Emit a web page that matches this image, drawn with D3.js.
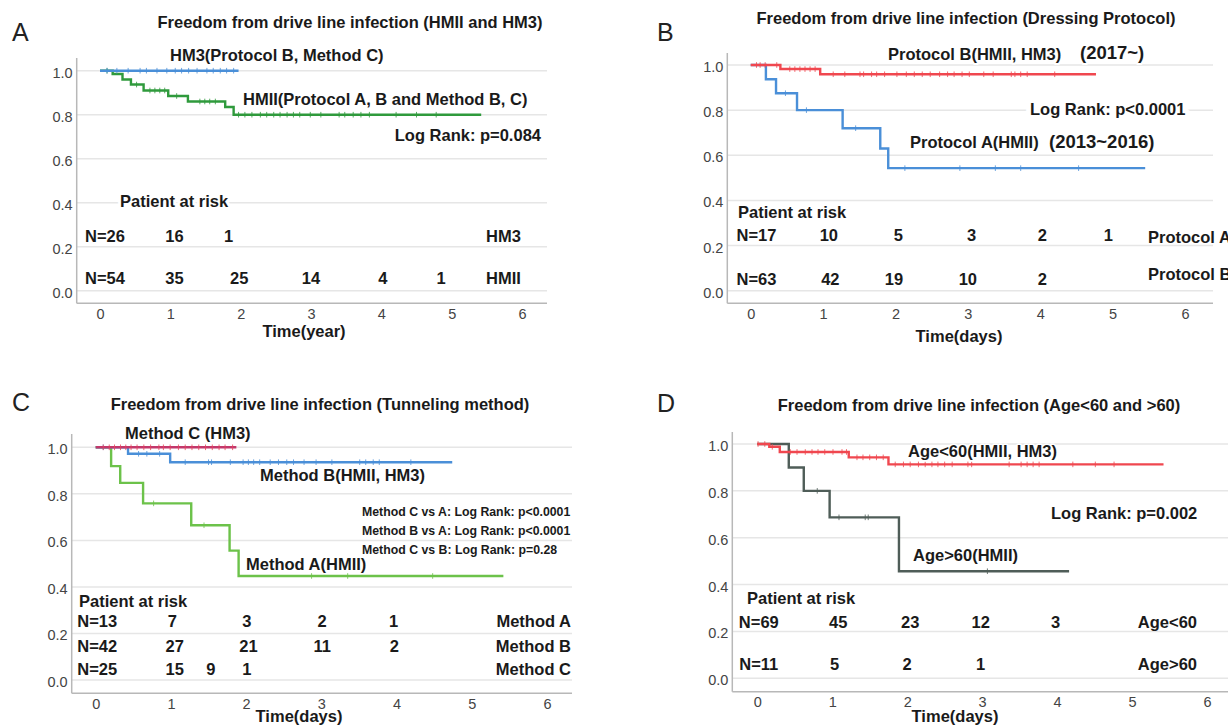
<!DOCTYPE html>
<html>
<head>
<meta charset="utf-8">
<script src="https://cdn.jsdelivr.net/npm/d3@7"></script>
<style>
  body { margin: 0; background: #fff; }
  text { font-family: "Liberation Sans", Arial, sans-serif; }
</style>
</head>
<body>
<div id="chart"></div>
<script>
// ---- shared ticks ----
var xTicks = [0, 1, 2, 3, 4, 5, 6];
var yTicks = [0, 0.2, 0.4, 0.6, 0.8, 1.0];

// ---- Panel A: HMII vs HM3 (time in years) ----
var aHm3Drops = [];
var aHm3Surv = [];
var aHm3End = 1.97;
var aHm3Censor = [0.1, 0.24, 0.4, 0.57, 0.66, 0.81, 0.95, 1.07, 1.16, 1.26, 1.38, 1.52, 1.61, 1.71, 1.8, 1.9];
var aHmiiDrops = [0.18, 0.32, 0.44, 0.62, 0.97, 1.25, 1.78, 1.9];
var aHmiiSurv = [0.985, 0.96, 0.937, 0.91, 0.885, 0.86, 0.835, 0.80];
var aHmiiEnd = 5.42;
var aHmiiCensor = [0.1, 0.52, 0.71, 0.78, 0.85, 0.92, 1.09, 1.42, 1.49, 1.56, 1.64, 1.97, 2.06, 2.16, 2.28, 2.37, 2.47, 2.56, 2.66, 2.75, 2.84, 2.99, 3.14, 3.4, 3.48, 3.6, 3.71, 3.83, 4.21, 4.5, 4.78];
var aRiskHm3 = ["N=26", "16", "1"];
var aRiskHm3At = [0.07, 1.06, 1.83];
var aRiskHmii = ["N=54", "35", "25", "14", "4", "1"];
var aRiskHmiiAt = [0.07, 1.06, 1.98, 3.0, 4.02, 4.85];

// ---- Panel B: dressing protocol ----
var bProtBDrops = [0.41, 0.96];
var bProtBSurv = [0.982, 0.959];
var bProtBEnd = 4.77;
var bProtBCensor = [0.08, 0.13, 0.2, 0.36, 0.54, 0.61, 0.68, 0.75, 0.82, 0.89, 1.14, 1.3, 1.51, 1.56, 1.67, 1.74, 1.85, 2.02, 2.15, 2.26, 2.37, 2.48, 2.61, 2.72, 2.81, 2.92, 3.02, 3.22, 3.35, 3.6, 3.65, 3.73, 3.82, 4.2];
var bProtADrops = [0.21, 0.35, 0.64, 1.27, 1.79, 1.9];
var bProtASurv = [0.937, 0.875, 0.80, 0.72, 0.63, 0.543];
var bProtAEnd = 5.45;
var bProtACensor = [0.48, 0.77, 1.45, 2.13, 2.89, 3.38, 3.73, 4.53];
var bRiskA = ["N=17", "10", "5", "3", "2", "1"];
var bRiskAAt = [0.08, 1.08, 2.04, 3.05, 4.03, 4.94];
var bRiskB = ["N=63", "42", "19", "10", "2"];
var bRiskBAt = [0.08, 1.1, 1.98, 3.0, 4.03];

// ---- Panel C: tunneling method ----
var cMethCDrops = [];
var cMethCSurv = [];
var cMethCEnd = 1.87;
var cMethCCensor = [0.1, 0.18, 0.25, 0.33, 0.4, 0.47, 0.55, 0.64, 0.73, 0.84, 0.9, 0.99, 1.1, 1.19, 1.28, 1.37, 1.46, 1.55, 1.64, 1.72, 1.82];
var cMethBDrops = [0.43, 0.99];
var cMethBSurv = [0.972, 0.936];
var cMethBEnd = 4.74;
var cMethBCensor = [0.1, 0.57, 0.68, 0.85, 1.19, 1.5, 1.54, 1.79, 1.96, 2.03, 2.1, 2.18, 2.32, 2.43, 2.54, 2.63, 2.77, 2.93, 3.14, 3.51, 3.59, 3.69, 3.77, 4.19];
var cMethADrops = [0.205, 0.326, 0.63, 1.27, 1.78, 1.9];
var cMethASurv = [0.919, 0.847, 0.759, 0.665, 0.556, 0.447];
var cMethAEnd = 5.42;
var cMethACensor = [0.77, 1.44, 2.87, 3.35, 4.48];
var cRiskA = ["N=13", "7", "3", "2", "1"];
var cRiskAAt = [0.02, 1.02, 2.01, 3.01, 3.96];
var cRiskB = ["N=42", "27", "21", "11", "2"];
var cRiskBAt = [0.02, 1.05, 2.03, 3.01, 3.97];
var cRiskC = ["N=25", "15", "9", "1"];
var cRiskCAt = [0.02, 1.05, 1.53, 2.01];

// ---- Panel D: age ----
var dYoungDrops = [0.16, 0.3, 1.22, 1.75];
var dYoungSurv = [0.988, 0.966, 0.943, 0.913];
var dYoungEnd = 5.42;
var dYoungCensor = [0.01, 0.1, 0.2, 0.44, 0.53, 0.64, 0.73, 0.81, 0.9, 1.01, 1.13, 1.19, 1.33, 1.41, 1.5, 1.59, 1.68, 1.84, 1.95, 2.04, 2.15, 2.24, 2.33, 2.41, 2.5, 2.6, 2.81, 2.86, 3.36, 3.52, 3.6, 3.68, 3.76, 4.21, 4.51, 4.76];
var dOldDrops = [0.42, 0.62, 0.965, 1.89];
var dOldSurv = [0.9, 0.8, 0.687, 0.457];
var dOldEnd = 4.16;
var dOldCensor = [0.8, 1.09, 1.44, 1.48, 3.07];
var dRiskYoung = ["N=69", "45", "23", "12", "3"];
var dRiskYoungAt = [0.02, 1.08, 2.04, 2.98, 3.98];
var dRiskOld = ["N=11", "5", "2", "1"];
var dRiskOldAt = [0.02, 1.03, 2.0, 2.98];

var svg = d3.select("#chart").append("svg")
  .attr("width", 1228).attr("height", 726);
svg.append("rect").attr("width", 1228).attr("height", 726).attr("fill", "#fff");

function txt(g, x, y, s, opt) {
  opt = opt || {};
  var t = g.append("text")
    .attr("x", x).attr("y", y)
    .attr("font-size", opt.size || 16.5)
    .attr("font-weight", opt.weight || "bold")
    .attr("text-anchor", opt.anchor || "start")
    .attr("fill", opt.color || "#1a1a1a")
    .text(s);
  if (opt.halo) {
    t.attr("stroke", "#fff").attr("stroke-width", opt.halo)
     .attr("stroke-linejoin", "round").attr("paint-order", "stroke");
  }
  return t;
}

// draws frame, grid and axes; returns scales
function frame(cfg) {
  var g = svg.append("g");
  var x = d3.scaleLinear().domain([0, 6]).range([cfg.x0, cfg.x6]);
  var y = d3.scaleLinear().domain([0, 1]).range([cfg.y0, cfg.y1]);

  g.selectAll("line.grid").data(yTicks).join("line")
    .attr("class", "grid")
    .attr("x1", cfg.left).attr("x2", cfg.right)
    .attr("y1", function(d) { return y(d); })
    .attr("y2", function(d) { return y(d); })
    .attr("stroke", "#e6e6e6").attr("stroke-width", 1.5);

  // axis lines
  g.append("line").attr("x1", cfg.left).attr("x2", cfg.left)
    .attr("y1", cfg.top).attr("y2", cfg.bottom)
    .attr("stroke", "#b8b8b8").attr("stroke-width", 1.5);
  g.append("line").attr("x1", cfg.left).attr("x2", cfg.right)
    .attr("y1", cfg.bottom).attr("y2", cfg.bottom)
    .attr("stroke", "#b8b8b8").attr("stroke-width", 1.5);

  var ya = g.append("g").attr("transform", "translate(" + cfg.left + ",0)")
    .call(d3.axisLeft(y).tickValues(yTicks).tickSize(0).tickPadding(4).tickFormat(d3.format(".1f")));
  var xa = g.append("g").attr("transform", "translate(0," + cfg.bottom + ")")
    .call(d3.axisBottom(x).tickValues(xTicks).tickSize(0).tickPadding(5).tickFormat(d3.format("d")));
  [ya, xa].forEach(function(a) {
    a.select(".domain").remove();
    a.selectAll("text").attr("font-size", 14.5).attr("fill", "#444")
      .attr("font-family", "'Liberation Sans', Arial, sans-serif");
  });
  ya.selectAll("text").attr("dy", "0.45em");

  return { g: g, x: x, y: y };
}

function km(p, drops, surv, end, censor, color, tickColor) {
  var last = surv.length ? surv[surv.length - 1] : 1;
  var pts = [[0, 1]].concat(drops.map(function(t, i) { return [t, surv[i]]; })).concat([[end, last]]);
  p.g.append("path").datum(pts)
    .attr("d", d3.line()
      .x(function(d) { return p.x(d[0]); })
      .y(function(d) { return p.y(d[1]); })
      .curve(d3.curveStepAfter))
    .attr("fill", "none").attr("stroke", color).attr("stroke-width", 2.4);
  var sAt = function(t) {
    var s = 1;
    drops.forEach(function(d, i) { if (d <= t) s = surv[i]; });
    return s;
  };
  p.g.selectAll(null).data(censor).join("line")
    .attr("x1", function(d) { return p.x(d); })
    .attr("x2", function(d) { return p.x(d); })
    .attr("y1", function(d) { return p.y(sAt(d)) - 2.8; })
    .attr("y2", function(d) { return p.y(sAt(d)) + 2.8; })
    .attr("stroke", tickColor || color).attr("stroke-width", 1)
    .attr("opacity", 0.8);
}

function riskRow(p, labels, at, baseline) {
  labels.forEach(function(s, i) {
    txt(p.g, p.x(at[i]), baseline, s, { anchor: "middle" });
  });
}

var blue = "#4a8fd8", greenA = "#2f9a3c", red = "#f0474f",
    greenC = "#6cc24a", crimson = "#c2386c", slate = "#4f5d58";

// ================= Panel A =================
var pA = frame({ x0: 100, x6: 522, y0: 290.7, y1: 70.7, left: 76.7, right: 547, top: 58, bottom: 303.3 });
km(pA, aHmiiDrops, aHmiiSurv, aHmiiEnd, aHmiiCensor, greenA);
km(pA, aHm3Drops, aHm3Surv, aHm3End, aHm3Censor, blue);
txt(svg, 12, 41, "A", { size: 25, weight: "normal", color: "#222" });
txt(svg, 350, 28, "Freedom from drive line infection (HMII and HM3)", { anchor: "middle" });
txt(svg, 170, 61, "HM3(Protocol B, Method C)", { halo: 4 });
txt(svg, 243, 105, "HMII(Protocol A, B and Method B, C)", { halo: 3 });
txt(svg, 541, 141, "Log Rank: p=0.084", { anchor: "end", halo: 4 });
txt(svg, 120, 207, "Patient at risk", { halo: 6 });
riskRow(pA, aRiskHm3, aRiskHm3At, 242);
riskRow(pA, aRiskHmii, aRiskHmiiAt, 284);
txt(svg, 486, 242, "HM3");
txt(svg, 486, 284, "HMII");
txt(svg, 304, 337, "Time(year)", { anchor: "middle" });

// ================= Panel B =================
var pB = frame({ x0: 750.7, x6: 1185, y0: 290.7, y1: 65, left: 727.3, right: 1213, top: 53, bottom: 303.3 });
km(pB, bProtADrops, bProtASurv, bProtAEnd, bProtACensor, blue);
km(pB, bProtBDrops, bProtBSurv, bProtBEnd, bProtBCensor, red);
txt(svg, 657, 41, "B", { size: 25, weight: "normal", color: "#222" });
txt(svg, 966, 24, "Freedom from drive line infection (Dressing Protocol)", { anchor: "middle" });
txt(svg, 888, 60, "Protocol B(HMII, HM3)", { halo: 4 });
txt(svg, 1080, 59, "(2017~)", { size: 18.5, halo: 4 });
txt(svg, 1030, 115, "Log Rank: p<0.0001", { halo: 10 });
txt(svg, 910, 148, "Protocol A(HMII)", { halo: 4 });
txt(svg, 1049, 148, "(2013~2016)", { size: 18.5, halo: 4 });
txt(svg, 738, 218, "Patient at risk", { halo: 4 });
riskRow(pB, bRiskA, bRiskAAt, 241);
riskRow(pB, bRiskB, bRiskBAt, 285);
txt(svg, 1148, 243, "Protocol A");
txt(svg, 1148, 280, "Protocol B");
txt(svg, 959, 342, "Time(days)", { anchor: "middle" });

// ================= Panel C =================
var pC = frame({ x0: 95.7, x6: 547, y0: 680, y1: 447.3, left: 71.7, right: 572, top: 434, bottom: 693.3 });
km(pC, cMethADrops, cMethASurv, cMethAEnd, cMethACensor, greenC);
km(pC, cMethBDrops, cMethBSurv, cMethBEnd, cMethBCensor, blue);
km(pC, cMethCDrops, cMethCSurv, cMethCEnd, cMethCCensor, crimson, "#e8445c");
txt(svg, 12, 411, "C", { size: 25, weight: "normal", color: "#222" });
txt(svg, 320, 410, "Freedom from drive line infection (Tunneling method)", { anchor: "middle" });
txt(svg, 125, 439, "Method C (HM3)", { halo: 3 });
txt(svg, 260, 481, "Method B(HMII, HM3)", { halo: 4 });
txt(svg, 362, 516, "Method C vs A: Log Rank: p<0.0001", { size: 12.3, halo: 4 });
txt(svg, 362, 535, "Method B vs A: Log Rank: p<0.0001", { size: 12.3, halo: 4 });
txt(svg, 362, 554, "Method C vs B: Log Rank: p=0.28", { size: 12.3, halo: 4 });
txt(svg, 246, 570, "Method A(HMII)", { halo: 2 });
txt(svg, 79, 607, "Patient at risk", { halo: 4 });
riskRow(pC, cRiskA, cRiskAAt, 627);
riskRow(pC, cRiskB, cRiskBAt, 652);
riskRow(pC, cRiskC, cRiskCAt, 675);
txt(svg, 571, 627, "Method A", { anchor: "end" });
txt(svg, 571, 652, "Method B", { anchor: "end" });
txt(svg, 571, 675, "Method C", { anchor: "end" });
txt(svg, 299, 722, "Time(days)", { anchor: "middle" });

// ================= Panel D =================
var pD = frame({ x0: 757.3, x6: 1207, y0: 678.3, y1: 444, left: 732.3, right: 1228, top: 432, bottom: 691.7 });
km(pD, dOldDrops, dOldSurv, dOldEnd, dOldCensor, slate);
km(pD, dYoungDrops, dYoungSurv, dYoungEnd, dYoungCensor, red);
txt(svg, 657, 412, "D", { size: 25, weight: "normal", color: "#222" });
txt(svg, 979, 411, "Freedom from drive line infection (Age<60 and >60)", { anchor: "middle" });
txt(svg, 908, 457, "Age<60(HMII, HM3)", { halo: 3 });
txt(svg, 1051, 519, "Log Rank: p=0.002", { halo: 4 });
txt(svg, 913, 561, "Age>60(HMII)", { halo: 3 });
txt(svg, 747, 604, "Patient at risk", { halo: 4 });
riskRow(pD, dRiskYoung, dRiskYoungAt, 628);
riskRow(pD, dRiskOld, dRiskOldAt, 670);
txt(svg, 1197, 628, "Age<60", { anchor: "end" });
txt(svg, 1197, 670, "Age>60", { anchor: "end" });
txt(svg, 955, 722, "Time(days)", { anchor: "middle" });
</script>
</body>
</html>
